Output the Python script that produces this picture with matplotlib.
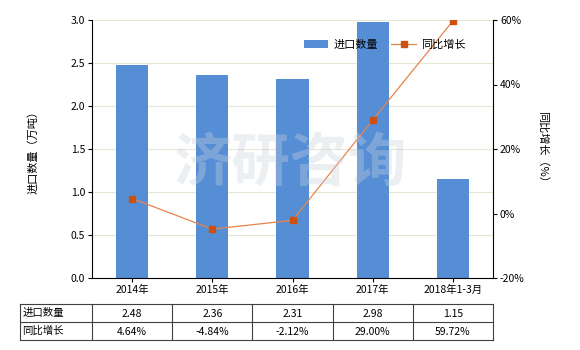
import matplotlib.pyplot as plt
import numpy as np

plt.rcParams['font.family'] = ['Noto Sans CJK SC', 'DejaVu Sans']

# Data
categories = ["2014年", "2015年", "2016年", "2017年", "2018年1-3月"]
quantity = [2.48, 2.36, 2.31, 2.98, 1.15]
growth = [4.64, -4.84, -2.12, 29.00, 59.72]
quantity_labels = ["2.48", "2.36", "2.31", "2.98", "1.15"]
growth_labels = ["4.64%", "-4.84%", "-2.12%", "29.00%", "59.72%"]

W, H = 580, 350
fig = plt.figure(figsize=(W / 100, H / 100), dpi=100)

# Main axes (pixel box: x 92-493, y 20-278)
ax = fig.add_axes([92 / W, 1 - 278 / H, 401 / W, 258 / H])
x = np.arange(len(categories))
bars = ax.bar(x, quantity, width=0.4, color='#558ed5', label='进口数量', zorder=2)
ax.set_xlim(-0.5, 4.5)
ax.set_ylim(0, 3.0)
ax.set_yticks(np.arange(0, 3.01, 0.5))
ax.set_yticklabels([f"{v:.1f}" for v in np.arange(0, 3.01, 0.5)], fontsize=7.5)
ax.set_xticks(x)
ax.set_xticklabels(categories, fontsize=7.5)
ax.grid(axis='y', color='#e6e6d6', linewidth=0.8, zorder=0)
ax.set_axisbelow(True)
for s in ['top', 'right']:
    ax.spines[s].set_visible(False)
ax.tick_params(length=3, width=0.8, pad=2)
ax.set_ylabel('进口数量（万吨）', fontsize=8, labelpad=23)

ax2 = ax.twinx()
ax2.plot(x, growth, color='#e8844a', linewidth=0.9, marker='s', markersize=5,
         markerfacecolor='#cc5010', markeredgecolor='#cc5010', label='同比增长', zorder=3)
ax2.set_ylim(-20, 60)
ax2.set_yticks(np.arange(-20, 61, 20))
ax2.set_yticklabels([f"{v}%" for v in range(-20, 61, 20)], fontsize=7.5)
for s in ['top', 'left']:
    ax2.spines[s].set_visible(False)
ax2.spines['bottom'].set_visible(False)
ax2.tick_params(length=3, width=0.8, pad=2)
ax2.set_ylabel('同比增长（%）', fontsize=8, rotation=270, labelpad=17)

# watermark
fig.text(290 / W, 1 - 165 / H, '济研咨询', fontsize=42, fontweight='bold',
         color='#c8d2dc', alpha=0.35, ha='center', va='center', zorder=10)

h1, l1 = ax.get_legend_handles_labels()
h2, l2 = ax2.get_legend_handles_labels()
ax2.legend(h1 + h2, l1 + l2, ncol=2, frameon=False, fontsize=8,
           loc='center', bbox_to_anchor=(0.73, 0.905), handlelength=2.2,
           columnspacing=1.2, handletextpad=0.5)

# Table (pixel box: x 20-493, y 304-340)
tax = fig.add_axes([20 / W, 1 - 340 / H, 473 / W, 36 / H])
left = -0.5 - 72 / 80.2
tax.set_xlim(left, 4.5)
tax.set_ylim(2, 0)
tax.axis('off')
lc = '#404040'
for xv in [left] + list(np.arange(-0.5, 4.6, 1.0)):
    tax.plot([xv, xv], [0, 2], color=lc, linewidth=0.8, clip_on=False)
for yv in [0, 1, 2]:
    tax.plot([left, 4.5], [yv, yv], color=lc, linewidth=0.8, clip_on=False)
row_names = ['进口数量', '同比增长']
for r, vals in enumerate([quantity_labels, growth_labels]):
    tax.text(left + 0.03, r + 0.5, row_names[r], fontsize=7.5, ha='left', va='center')
    for i, v in enumerate(vals):
        tax.text(i, r + 0.55, v, fontsize=7.5, ha='center', va='center')

fig.savefig('out.png', dpi=100)
